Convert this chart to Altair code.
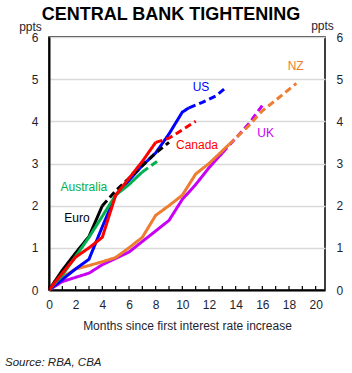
import altair as alt
import pandas as pd

# ---- data ----
countries = ["UK", "NZ", "US", "Euro", "Australia", "Canada"]
colors = ["#C800F5", "#ED7D31", "#0000FF", "#000000", "#00B050", "#FF0000"]

uk_solid_m = [0, 1, 2, 3, 4, 5, 6, 7, 8, 9, 10, 11, 12, 13]
uk_solid_v = [0, 0.2, 0.3, 0.4, 0.6, 0.75, 0.9, 1.15, 1.4, 1.65, 2.15, 2.5, 2.9, 3.25]
uk_dash_m = [13, 14, 15, 16.1]
uk_dash_v = [3.25, 3.6, 3.95, 4.42]

nz_solid_m = [0, 1, 2, 3, 4, 5, 6, 7, 8, 9, 10, 11, 12, 13, 13.5]
nz_solid_v = [0, 0.3, 0.5, 0.58, 0.67, 0.77, 1.0, 1.25, 1.77, 2.0, 2.25, 2.75, 3.0, 3.3, 3.45]
nz_dash_m = [13.5, 15, 16, 17, 18.55]
nz_dash_v = [3.45, 3.9, 4.25, 4.5, 4.9]

us_solid_m = [0, 1, 2, 3, 4, 5, 6, 7, 8, 9, 10, 10.5]
us_solid_v = [0, 0.25, 0.5, 0.73, 1.5, 2.25, 2.6, 2.95, 3.25, 3.7, 4.22, 4.32]
us_dash_m = [10.5, 11.5, 12.5, 13.2]
us_dash_v = [4.32, 4.45, 4.6, 4.78]

eu_solid_m = [0, 1, 2, 3, 4]
eu_solid_v = [0, 0.47, 0.88, 1.27, 2.0]
eu_dash_m = [4, 5, 6, 7, 8, 9]
eu_dash_v = [2.0, 2.35, 2.65, 2.95, 3.25, 3.5]

au_solid_m = [0, 1, 2, 3, 4, 5, 6, 7]
au_solid_v = [0, 0.35, 0.8, 1.25, 1.75, 2.25, 2.5, 2.8]
au_dash_m = [7, 8.1]
au_dash_v = [2.8, 3.05]

ca_solid_m = [0, 1, 2, 3, 4, 5, 6, 7, 8]
ca_solid_v = [0, 0.4, 0.78, 1.0, 1.25, 2.25, 2.65, 3.05, 3.5]
ca_dash_m = [8, 9, 10, 11]
ca_dash_v = [3.5, 3.6, 3.8, 4.0]

label_text = ["UK", "NZ", "US", "Euro", "Australia", "Canada"]
label_m = [16.25, 18.5, 11.4, 2.1, 2.62, 11.1]
label_v = [3.72, 5.31, 4.81, 1.71, 2.44, 3.44]

tick_months = list(range(0, 21))
x_label_values = list(range(0, 21, 2))
y_values = [0, 1, 2, 3, 4, 5, 6]

title_text = ["CENTRAL BANK TIGHTENING"]
source_text = ["Source: RBA, CBA"]

# ---- build table ----
series = {
    "UK": (uk_solid_m, uk_solid_v, uk_dash_m, uk_dash_v),
    "NZ": (nz_solid_m, nz_solid_v, nz_dash_m, nz_dash_v),
    "US": (us_solid_m, us_solid_v, us_dash_m, us_dash_v),
    "Euro": (eu_solid_m, eu_solid_v, eu_dash_m, eu_dash_v),
    "Australia": (au_solid_m, au_solid_v, au_dash_m, au_dash_v),
    "Canada": (ca_solid_m, ca_solid_v, ca_dash_m, ca_dash_v),
}
rows = []
for order, c in enumerate(countries):
    sm, sv, dm, dv = series[c]
    for m, v in zip(sm, sv):
        rows.append({"country": c, "seg": "solid", "grp": f"{order}{c}a", "month": m, "value": v})
    for m, v in zip(dm, dv):
        rows.append({"country": c, "seg": "dashed", "grp": f"{order}{c}b", "month": m, "value": v})
df = pd.DataFrame(rows)

labels = pd.DataFrame({"country": label_text, "month": label_m, "value": label_v})
ticks = pd.DataFrame({"month": tick_months})

FONT = "Liberation Sans"
LABEL_COLOR = "#1e1e30"

xscale = alt.Scale(domain=[0, 20.7], nice=False, zero=False)
yscale = alt.Scale(domain=[0, 6], nice=False)
cscale = alt.Scale(domain=countries, range=colors)

xaxis = alt.Axis(values=x_label_values, title="Months since first interest rate increase",
                 ticks=False, grid=False, labelPadding=9, titlePadding=10,
                 domainColor="#000", domainWidth=2, labelFlush=False)
X = alt.X("month:Q", scale=xscale, axis=xaxis)

lines = alt.Chart(df).mark_line(strokeWidth=3, strokeJoin="miter").encode(
    x=X,
    y=alt.Y("value:Q", scale=yscale,
            axis=alt.Axis(values=y_values, orient="left", title="ppts", titleAngle=0,
                          titleX=-19, titleY=-11, titleAlign="center", titleBaseline="middle",
                          ticks=False, labelPadding=11, grid=True, gridColor="#D9D9D9",
                          gridWidth=1.5, domainColor="#000", domainWidth=2)),
    color=alt.Color("country:N", scale=cscale, legend=None),
    strokeDash=alt.StrokeDash("seg:N", scale=alt.Scale(domain=["solid", "dashed"],
                                                        range=[[1, 0], [7, 4]]), legend=None),
    detail="grp:N",
    order=alt.Order("month:Q"),
)

right_axis = alt.Chart(ticks).mark_point(opacity=0).encode(
    x=X,
    y=alt.Y("month:Q", scale=yscale,
            axis=alt.Axis(values=y_values, orient="right", title="ppts", titleAngle=0,
                          titleX=-3, titleY=-12, titleAlign="center", titleBaseline="middle",
                          ticks=False, labelPadding=11, grid=False, domain=False)),
)

tick_marks = alt.Chart(ticks).mark_rule(color="#000", strokeWidth=1.2).encode(
    x=X,
    y=alt.value(249),
    y2=alt.value(253),
)

texts = alt.Chart(labels).mark_text(fontSize=12, font=FONT).encode(
    x=X,
    y=alt.Y("value:Q", scale=yscale, axis=None),
    text="country:N",
    color=alt.Color("country:N", scale=cscale, legend=None),
)

src = alt.Chart(pd.DataFrame({"t": source_text})).mark_text(
    fontSize=11.5, font=FONT, fontStyle="italic", align="left", baseline="middle", color="#222"
).encode(text="t:N", x=alt.value(-44), y=alt.value(326))

ttl = alt.Chart(pd.DataFrame({"t": title_text})).mark_text(
    fontSize=18, font=FONT, fontWeight="bold", align="center", baseline="middle", color="#000"
).encode(text="t:N", x=alt.value(122), y=alt.value(-22))

chart = alt.layer(lines, tick_marks, texts, src, ttl, right_axis).resolve_scale(
    y="independent"
).properties(
    width=276,
    height=253,
    padding={"left": 49, "top": 37, "right": 27, "bottom": 83},
    autosize=alt.AutoSizeParams(type="none"),
).configure_view(
    stroke="#000", strokeWidth=1.5
).configure_axis(
    labelFont=FONT, titleFont=FONT, labelFontSize=12, titleFontSize=12,
    labelColor=LABEL_COLOR, titleColor=LABEL_COLOR, titleFontWeight="normal",
)

chart.save("out.html", embed_options={"renderer": "svg", "actions": False})
